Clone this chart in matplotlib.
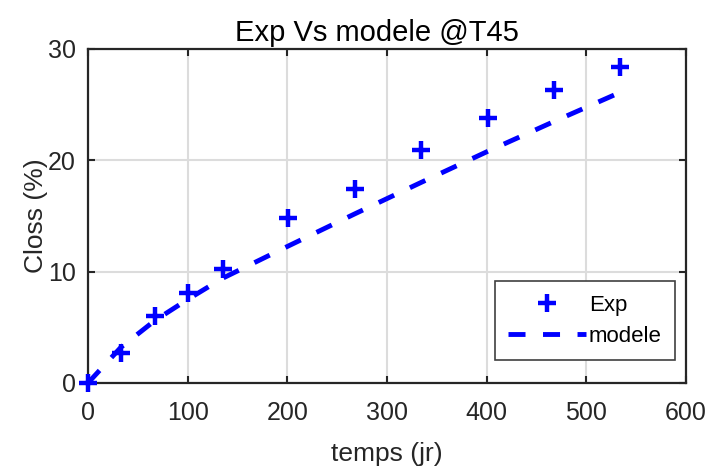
import numpy as np
import matplotlib.pyplot as plt

plt.rcParams['font.family'] = ['Liberation Sans', 'DejaVu Sans']

# data
temps = [0, 33, 67, 100, 135, 201, 268, 334, 401, 468, 534]
closs_exp = [0, 2.7, 6.0, 8.1, 10.2, 14.85, 17.45, 20.9, 23.8, 26.35, 28.4]
closs_mod = [0, 3.2, 5.6, 7.5, 9.4, 12.3, 15.2, 18.0, 20.8, 23.5, 26.1]

xticks = [0, 100, 200, 300, 400, 500, 600]
yticks = [0, 10, 20, 30]

fig = plt.figure(figsize=(7.08, 4.67), dpi=100)
ax = fig.add_axes([0.1243, 0.18, 0.8446, 0.7152])

ax.plot(temps, closs_exp, '+', color='blue', markersize=13, markeredgewidth=3.2,
        label='Exp', zorder=3, clip_on=False)
ax.plot(temps, closs_mod, '--', color='blue', linewidth=3.5, dashes=(3.5, 3.6),
        label='modele', zorder=3)

ax.set_xlim(0, 600)
ax.set_ylim(0, 30)
ax.set_xticks(xticks)
ax.set_yticks(yticks)
ax.grid(True, color='#dcdcdc', linewidth=1.5)
ax.set_axisbelow(True)
ax.tick_params(direction='in', top=True, right=True, length=5, width=1.5,
               labelsize=18, colors='#262626')
ax.tick_params(axis='x', pad=13)
ax.tick_params(axis='y', pad=9)
for s in ax.spines.values():
    s.set_linewidth(1.6)
    s.set_color('#262626')

ax.set_title('Exp Vs modele @T45', fontsize=21, color='black', pad=6, x=0.483)
ax.set_xlabel('temps (jr)', fontsize=19, color='#262626', labelpad=12)
ax.set_ylabel('Closs (%)', fontsize=19, color='#262626', labelpad=0)

leg = ax.legend(loc='lower right', fontsize=16, fancybox=False, framealpha=1,
                edgecolor='#404040', handlelength=3.5, handletextpad=0.15,
                borderpad=0.6, labelspacing=0.45, borderaxespad=0,
                bbox_to_anchor=(0.982, 0.069))
leg.get_frame().set_linewidth(1.2)

fig.savefig('out.png', dpi=100)
